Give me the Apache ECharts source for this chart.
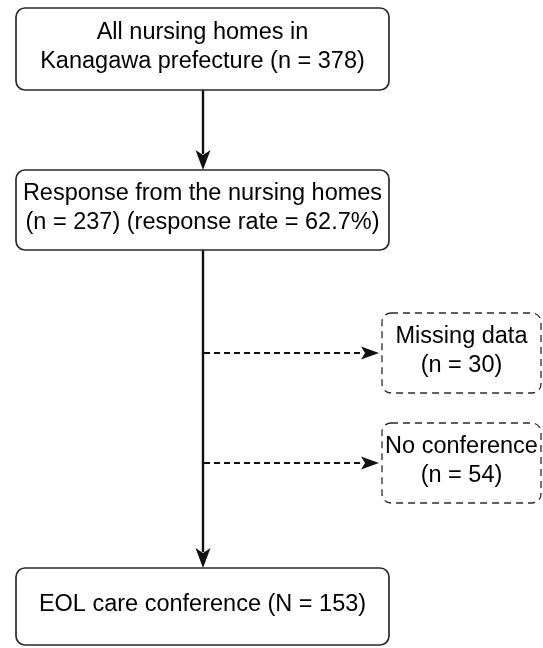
<!DOCTYPE html>
<html>
<head>
<meta charset="utf-8">
<script src="https://cdn.jsdelivr.net/npm/echarts@6/dist/echarts.min.js"></script>
<style>
  html, body { margin: 0; padding: 0; background: #fff; }
  #flow { width: 543px; height: 648px; }
</style>
</head>
<body>
<div id="flow"></div>
<script>
// ---- data ----
var nodeNames = ['All nursing homes in\nKanagawa prefecture', 'Response from the nursing homes', 'Missing data', 'No conference', 'EOL care conference'];
var nodeCounts = [378, 237, 30, 54, 153];
var nodeCountTag = ['n', 'n', 'n', 'n', 'N'];
var responseRate = 62.7;
var edgeFrom = [0, 1, 1, 1];
var edgeTo = [1, 4, 2, 3];

// ---- layout (pixel units on a hidden 543 x 648 axis) ----
var boxRects = [
    [16, 8, 389, 90],
    [16, 170, 389, 250],
    [382, 313, 541, 393],
    [382, 423, 541, 503],
    [16, 568, 389, 645]
];
var boxDashed = [false, false, true, true, false];
var trunkX = 203;

function nodeText(i) {
    var c = '(' + nodeCountTag[i] + ' = ' + nodeCounts[i] + ')';
    if (i === 0) return nodeNames[i] + ' ' + c;
    if (i === 1) return nodeNames[i] + '\n' + c + ' (response rate = ' + responseRate + '%)';
    if (i === 4) return nodeNames[i] + ' ' + c;
    return nodeNames[i] + '\n' + c;
}

var flow = echarts.init(document.getElementById('flow'));

var flow_option = {
    backgroundColor: '#ffffff',
    animation: false,
    grid: { left: 0, right: 0, top: 0, bottom: 0 },
    xAxis: { type: 'value', min: 0, max: 543, show: false },
    yAxis: { type: 'value', min: 0, max: 648, inverse: true, show: false },
    series: [
        {
            // arrows
            type: 'custom',
            coordinateSystem: 'cartesian2d',
            data: edgeFrom.map(function (f, i) { return [f, edgeTo[i]]; }),
            renderItem: function (params, api) {
                var f = api.value(0), t = api.value(1);
                var a = boxRects[f], b = boxRects[t];
                var p0, p1, dashed;
                if (boxDashed[t]) {
                    var cy = (b[1] + b[3]) / 2;
                    p0 = api.coord([trunkX + 1, cy]);
                    p1 = api.coord([b[0] - 3, cy]);
                    dashed = true;
                } else {
                    p0 = api.coord([trunkX, a[3]]);
                    p1 = api.coord([trunkX, b[1]]);
                    dashed = false;
                }
                var head;
                if (dashed) {
                    head = [[p1[0], p1[1]], [p1[0] - 18, p1[1] - 6.5], [p1[0] - 14, p1[1]], [p1[0] - 18, p1[1] + 6.5]];
                } else {
                    head = [[p1[0], p1[1]], [p1[0] - 7.5, p1[1] - 20], [p1[0], p1[1] - 15], [p1[0] + 7.5, p1[1] - 20]];
                }
                var lineEnd = dashed ? [p1[0] - 15, p1[1]] : [p1[0], p1[1] - 16];
                return {
                    type: 'group',
                    children: [
                        {
                            type: 'line',
                            shape: { x1: p0[0], y1: p0[1], x2: lineEnd[0], y2: lineEnd[1] },
                            style: { stroke: '#111111', lineWidth: dashed ? 2.2 : 2.4, lineDash: dashed ? [6, 4] : null }
                        },
                        {
                            type: 'polygon',
                            shape: { points: head },
                            style: { fill: '#111111', stroke: null }
                        }
                    ]
                };
            },
            z: 1
        },
        {
            // boxes
            type: 'custom',
            coordinateSystem: 'cartesian2d',
            data: nodeCounts.map(function (v, i) { return [i, v]; }),
            renderItem: function (params, api) {
                var i = api.value(0);
                var r = boxRects[i];
                var p0 = api.coord([r[0], r[1]]);
                var p1 = api.coord([r[2], r[3]]);
                var dashed = boxDashed[i];
                return {
                    type: 'group',
                    children: [
                        {
                            type: 'rect',
                            shape: { x: p0[0], y: p0[1], width: p1[0] - p0[0], height: p1[1] - p0[1], r: 9 },
                            style: {
                                fill: '#ffffff',
                                stroke: '#2a2a2a',
                                lineWidth: dashed ? 1.3 : 1.7,
                                lineDash: dashed ? [7, 5] : null
                            }
                        },
                        {
                            type: 'text',
                            style: {
                                text: nodeText(i),
                                x: (p0[0] + p1[0]) / 2,
                                y: (p0[1] + p1[1]) / 2 - 1.5,
                                align: 'center',
                                verticalAlign: 'middle',
                                fontSize: 23.5,
                                lineHeight: 29,
                                fontFamily: '"Liberation Sans", Arial, sans-serif',
                                fill: '#000000'
                            }
                        }
                    ]
                };
            },
            z: 2
        }
    ]
};

flow.setOption(flow_option);
</script>
</body>
</html>
